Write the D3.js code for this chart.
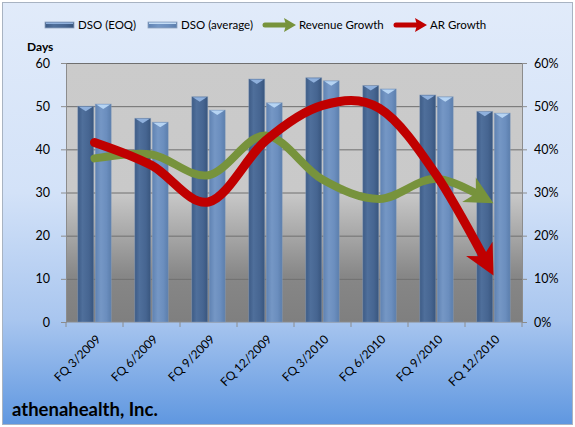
<!DOCTYPE html>
<html>
<head>
<meta charset="utf-8">
<script src="https://cdn.jsdelivr.net/npm/d3@7"></script>
<style>
  html, body { margin: 0; padding: 0; background: #fff; }
  svg { display: block; font-family: Lato, "Open Sans", sans-serif; }
</style>
</head>
<body>
<div id="chart"></div>
<script>
// quý tài chính
const categories = ["FQ 3/2009", "FQ 6/2009", "FQ 9/2009", "FQ 12/2009",
                    "FQ 3/2010", "FQ 6/2010", "FQ 9/2010", "FQ 12/2010"];
// DSO (ngày)
const dsoEOQ = [50.0, 47.2, 52.2, 56.3, 56.6, 54.8, 52.6, 48.8];
const dsoAvg = [50.5, 46.3, 49.1, 50.8, 55.9, 54.0, 52.2, 48.4];
// tăng trưởng (%)
const revGrowth = [37.9, 38.8, 34.0, 43.2, 33.0, 28.5, 33.2, 27.5];
const arGrowth  = [41.6, 36.3, 27.8, 42.0, 50.2, 49.5, 34.0, 10.8];
const daysTicks = [0, 10, 20, 30, 40, 50, 60];
const pctTicks  = [0, 10, 20, 30, 40, 50, 60];

const W = 575, H = 427;
const margin = { top: 63, right: 53, bottom: 105, left: 66 };
const innerW = W - margin.left - margin.right;
const innerH = H - margin.top - margin.bottom;

const svg = d3.select("#chart").append("svg")
  .attr("width", W).attr("height", H);
const defs = svg.append("defs");

function vGrad(id, stops) {
  const g = defs.append("linearGradient").attr("id", id)
    .attr("x1", 0).attr("y1", 0).attr("x2", 0).attr("y2", 1);
  stops.forEach(([o, c]) => g.append("stop").attr("offset", o).attr("stop-color", c));
}
function hGrad(id, stops) {
  const g = defs.append("linearGradient").attr("id", id)
    .attr("x1", 0).attr("y1", 0).attr("x2", 1).attr("y2", 0);
  stops.forEach(([o, c]) => g.append("stop").attr("offset", o).attr("stop-color", c));
}
vGrad("bgGrad", [[0, "#e1ebfa"], [0.45, "#d3e2f8"], [0.75, "#a9c6ef"], [1, "#5f97e0"]]);
vGrad("plotGrad", [[0, "#cbcbcb"], [0.5, "#c9c9c9"], [0.82, "#878787"], [1, "#7f7f7f"]]);
hGrad("eoqGrad", [[0, "#3d5b86"], [0.3, "#4f6f9b"], [0.7, "#466591"], [1, "#38557d"]]);
hGrad("avgGrad", [[0, "#5f82b2"], [0.35, "#7597c5"], [0.7, "#6b8ebe"], [1, "#5b7eac"]]);

// nền toàn biểu đồ
svg.append("rect").attr("x", 2.5).attr("y", 2.5).attr("width", W - 5).attr("height", H - 5)
  .attr("fill", "url(#bgGrad)").attr("stroke", "#a8b3c2").attr("stroke-width", 1);

const g = svg.append("g").attr("transform", `translate(${margin.left},${margin.top})`);

const x = d3.scaleBand().domain(categories).range([0, innerW]).padding(0);
const y = d3.scaleLinear().domain([0, 60]).range([innerH, 0]);
const yR = d3.scaleLinear().domain([0, 60]).range([innerH, 0]);

g.append("rect").attr("width", innerW).attr("height", innerH).attr("fill", "url(#plotGrad)");

// lưới ngang
g.append("g")
  .call(d3.axisLeft(y).tickValues(daysTicks.slice(1)).tickSize(-innerW).tickFormat(""))
  .call(a => a.select(".domain").remove())
  .selectAll("line").attr("stroke", "#6f6f6f").attr("stroke-width", 1);

// trục trái
const axL = g.append("g")
  .call(d3.axisLeft(y).tickValues(daysTicks).tickSize(5).tickPadding(11));
axL.select(".domain").attr("stroke", "#8c8c8c");
axL.selectAll("line").attr("stroke", "#8c8c8c");
axL.selectAll("text").style("font-size", "12.5px").attr("fill", "#000").style("font-family", "Lato, sans-serif");

// trục phải
const axR = g.append("g").attr("transform", `translate(${innerW},0)`)
  .call(d3.axisRight(yR).tickValues(pctTicks).tickSize(5).tickPadding(7).tickFormat(d => d + "%"));
axR.select(".domain").attr("stroke", "#8c8c8c");
axR.selectAll("line").attr("stroke", "#8c8c8c");
axR.selectAll("text").style("font-size", "12.5px").attr("fill", "#000").style("font-family", "Lato, sans-serif");

// trục X: vạch ở ranh giới nhóm
const axX = g.append("g").attr("transform", `translate(0,${innerH})`);
axX.append("line").attr("x1", 0).attr("x2", innerW).attr("stroke", "#8c8c8c");
axX.selectAll("line.tk").data(categories.concat(["_end"]))
  .join("line").attr("class", "tk")
  .attr("x1", (d, i) => i * x.step()).attr("x2", (d, i) => i * x.step())
  .attr("y1", 0).attr("y2", 5).attr("stroke", "#8c8c8c");
axX.selectAll("text").data(categories).join("text")
  .attr("transform", d => `translate(${x(d) + x.bandwidth() / 2 + 4},15) rotate(-45)`)
  .attr("text-anchor", "end").attr("dy", "0.35em")
  .style("font-size", "12px").attr("fill", "#000")
  .text(d => d);

// cột
const barW = 16, gap = 1.5;
const bars = [
  { name: "eoq", vals: dsoEOQ, fill: "url(#eoqGrad)", cap: "#8fb0dc", off: -barW - gap / 2 },
  { name: "avg", vals: dsoAvg, fill: "url(#avgGrad)", cap: "#b6d4f3", off: gap / 2 }
];
bars.forEach(s => {
  const gg = g.append("g");
  const cx = (d, i) => x(categories[i]) + x.bandwidth() / 2 + s.off;
  gg.selectAll("rect").data(s.vals).join("rect")
    .attr("x", cx).attr("y", d => y(d))
    .attr("width", barW).attr("height", d => innerH - y(d))
    .attr("fill", s.fill).attr("stroke", "#8ea3bf").attr("stroke-opacity", 0.5).attr("stroke-width", 0.8);
  gg.selectAll("path").data(s.vals).join("path")
    .attr("d", (d, i) => {
      const x0 = cx(d, i), y0 = y(d);
      return `M${x0 + 1},${y0 + 0.5} L${x0 + barW - 1},${y0 + 0.5} L${x0 + barW / 2},${y0 + 5} Z`;
    })
    .attr("fill", s.cap);
});

// đường cong + mũi tên
const line = d3.line()
  .x((d, i) => x(categories[i]) + x.bandwidth() / 2)
  .y(d => yR(d))
  .curve(d3.curveCatmullRom.alpha(0));

function arrowSeries(vals, color, sw, headL, headW) {
  const p = g.append("path").attr("d", line(vals))
    .attr("fill", "none").attr("stroke", color).attr("stroke-width", sw)
    .attr("stroke-linecap", "round");
  const node = p.node();
  const L = node.getTotalLength();
  p.attr("stroke-dasharray", `${L - headL * 0.6} ${L}`);
  const tip = node.getPointAtLength(L);
  const back = node.getPointAtLength(L - headL);
  const ang = Math.atan2(tip.y - back.y, tip.x - back.x) * 180 / Math.PI;
  g.append("path")
    .attr("d", `M0,0 L${-headL},${-headW / 2} L${-headL * 0.72},0 L${-headL},${headW / 2} Z`)
    .attr("transform", `translate(${tip.x},${tip.y}) rotate(${ang})`)
    .attr("fill", color);
}
arrowSeries(revGrowth, "#77933c", 8, 28, 28);
arrowSeries(arGrowth, "#c00000", 9, 30, 30);

// nhãn "Days"
svg.append("text").attr("x", 27).attr("y", 51)
  .style("font-size", "12px").style("font-weight", "bold").text("Days");

// chú thích
const leg = svg.append("g").attr("transform", "translate(0,25)");
[["DSO (EOQ)", "url(#eoqGrad)", 45], ["DSO (average)", "url(#avgGrad)", 148]].forEach(([t, f, lx]) => {
  leg.append("rect").attr("x", lx).attr("y", -3).attr("width", 29).attr("height", 6)
    .attr("fill", f).attr("stroke", "#8ea3bf").attr("stroke-width", 0.8);
  leg.append("rect").attr("x", lx + 1).attr("y", -2.5).attr("width", 27).attr("height", 1.5)
    .attr("fill", t === "DSO (EOQ)" ? "#8fb0dc" : "#c3dcf5");
  leg.append("text").attr("x", lx + 33).attr("y", 0).attr("dy", "0.35em")
    .style("font-size", "11.5px").text(t);
});
[["Revenue Growth", "#77933c", 265], ["AR Growth", "#c00000", 396]].forEach(([t, c, lx]) => {
  leg.append("line").attr("x1", lx).attr("x2", lx + 22).attr("y1", 0).attr("y2", 0)
    .attr("stroke", c).attr("stroke-width", 5).attr("stroke-linecap", "round");
  leg.append("path").attr("d", `M${lx + 31},0 L${lx + 19},-7 L${lx + 21},0 L${lx + 19},7 Z`).attr("fill", c);
  leg.append("text").attr("x", lx + 34).attr("y", 0).attr("dy", "0.35em")
    .style("font-size", "11.5px").text(t);
});

// tiêu đề công ty
svg.append("text").attr("x", 12).attr("y", 416)
  .style("font-size", "18.5px").style("font-weight", "bold").text("athenahealth, Inc.");
</script>
</body>
</html>
